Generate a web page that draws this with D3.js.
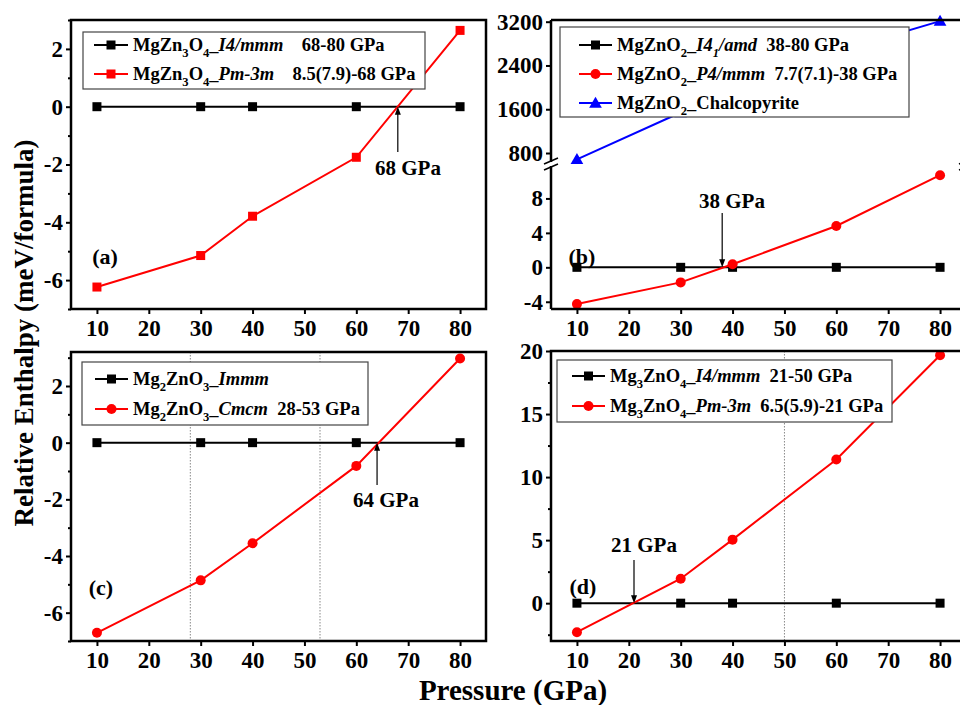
<!DOCTYPE html>
<html>
<head>
<meta charset="utf-8">
<script src="https://cdn.jsdelivr.net/npm/d3@7"></script>
<style>
  body { margin: 0; background: #fff; }
  svg { display: block; }
  text { font-family: "Liberation Serif", "Times New Roman", Times, "DejaVu Serif", serif; font-weight: bold; }
</style>
</head>
<body>
<svg id="chart" width="960" height="705"></svg>
<script>
// shared x values and ticks
const pressure = [10, 30, 40, 60, 80];
const xTicks = [10, 20, 30, 40, 50, 60, 70, 80];

// (a) MgZn3O4
const aI4mmm = [0, 0, 0, 0, 0];
const aPm3m = [-6.24, -5.15, -3.79, -1.75, 2.64];
const aYTicks = [-6, -4, -2, 0, 2];
const aYMinor = [-7, -5, -3, -1, 1, 3];
const aLegend = ["MgZn~3~O~4~_|I4/mmm|    68-80 GPa", "MgZn~3~O~4~_|Pm-3m|    8.5(7.9)-68 GPa"];

// (b) MgZnO2 (broken y axis)
const bI41amd = [0, 0, 0, 0, 0];
const bP4mmm = [-4.27, -1.75, 0.35, 4.8, 10.7];
const bChalco = [685, 1540, 1930, 2650, 3210];
const bYTicksLow = [-4, 0, 4, 8];
const bYTicksHigh = [800, 1600, 2400, 3200];
const bLegend = ["MgZnO~2~_|I4~1~/amd|  38-80 GPa", "MgZnO~2~_|P4/mmm|  7.7(7.1)-38 GPa", "MgZnO~2~_Chalcopyrite"];

// (c) Mg2ZnO3
const cImmm = [0, 0, 0, 0, 0];
const cCmcm = [-6.71, -4.86, -3.55, -0.82, 2.97];
const cYTicks = [-6, -4, -2, 0, 2];
const cYMinor = [-7, -5, -3, -1, 1, 3];
const cDotted = [28, 53];
const cLegend = ["Mg~2~ZnO~3~_|Immm|", "Mg~2~ZnO~3~_|Cmcm|  28-53 GPa"];

// (d) Mg3ZnO4
const dI4mmm = [0, 0, 0, 0, 0];
const dPm3m = [-2.3, 1.94, 5.04, 11.4, 19.66];
const dYTicks = [0, 5, 10, 15, 20];
const dYMinor = [-2.5, 2.5, 7.5, 12.5, 17.5];
const dDotted = [50];
const dLegend = ["Mg~3~ZnO~4~_|I4/mmm|  21-50 GPa", "Mg~3~ZnO~4~_|Pm-3m|  6.5(5.9)-21 GPa"];

// transition pressures
const transitions = { a: 68, b: 38, c: 64, d: 21 };

const svg = d3.select("#chart");
const RED = "#ff0000";
const FONT = '"Liberation Serif", "Times New Roman", Times, "DejaVu Serif", serif';

function styleAxis(g, size) {
    g.select(".domain").remove();
    g.attr("font-family", null).attr("font-size", null);
    g.selectAll("line").attr("stroke", "#000").attr("stroke-width", 2);
    g.selectAll("text").attr("fill", "#000").attr("font-size", size)
        .attr("font-family", FONT).attr("font-weight", "bold");
}

function richText(text, str, size) {
    let italic = false, sub = false, buf = "", shift = 0;
    const flush = () => {
        if (!buf) return;
        const target = sub ? size * 0.3 : 0;
        text.append("tspan")
            .attr("font-style", italic ? "italic" : null)
            .attr("font-size", sub ? size * 0.68 : size)
            .attr("dy", target - shift)
            .text(buf);
        shift = target;
        buf = "";
    };
    for (const ch of str) {
        if (ch === "~") { flush(); sub = !sub; }
        else if (ch === "|") { flush(); italic = !italic; }
        else buf += ch;
    }
    flush();
}

function marker(g, shape, x, y, color) {
    if (shape === "square") {
        g.append("rect").attr("x", x - 4.5).attr("y", y - 4.5).attr("width", 9).attr("height", 9).attr("fill", color);
    } else if (shape === "circle") {
        g.append("circle").attr("cx", x).attr("cy", y).attr("r", 5).attr("fill", color);
    } else {
        g.append("path").attr("transform", `translate(${x},${y + 1})`)
            .attr("d", d3.symbol(d3.symbolTriangle, 70)()).attr("fill", color);
    }
}

function drawSeries(g, x, y, vals, color, shape) {
    const line = d3.line().x((d, i) => x(pressure[i])).y(d => y(d));
    g.append("path").datum(vals).attr("d", line)
        .attr("fill", "none").attr("stroke", color).attr("stroke-width", 2);
    vals.forEach((v, i) => marker(g, shape, x(pressure[i]), y(v), color));
}

function drawLegend(g, box, entries, rows, lineX) {
    g.append("rect").attr("x", box[0]).attr("y", box[1])
        .attr("width", box[2] - box[0]).attr("height", box[3] - box[1])
        .attr("fill", "#fff").attr("stroke", "#444").attr("stroke-width", 1.2);
    entries.forEach((e, i) => {
        const yy = rows[i];
        g.append("line").attr("x1", lineX[0]).attr("x2", lineX[1]).attr("y1", yy).attr("y2", yy)
            .attr("stroke", e.color).attr("stroke-width", 2);
        marker(g, e.shape, (lineX[0] + lineX[1]) / 2, yy, e.color);
        const t = g.append("text").attr("x", lineX[1] + 5).attr("y", yy + 6)
            .style("white-space", "pre").attr("font-size", 18.5);
        richText(t, e.label, 18.5);
    });
}

function arrow(g, x, yFrom, yTip) {
    const dir = yTip > yFrom ? 1 : -1;
    g.append("line").attr("x1", x).attr("x2", x).attr("y1", yFrom).attr("y2", yTip - dir * 6)
        .attr("stroke", "#000").attr("stroke-width", 1.2);
    g.append("path").attr("d", `M${x},${yTip} L${x - 3},${yTip - dir * 8} L${x + 3},${yTip - dir * 8} Z`)
        .attr("fill", "#000");
}

function label(g, x, y, str, size) {
    g.append("text").attr("x", x).attr("y", y).attr("text-anchor", "middle")
        .attr("font-size", size).text(str);
}

function xAxis(g, x, yPos) {
    g.append("g").attr("transform", `translate(0,${yPos})`)
        .call(d3.axisBottom(x).tickValues(xTicks).tickSize(5).tickPadding(6).tickFormat(d => String(d)))
        .call(a => styleAxis(a, 23));
}

function yAxis(g, y, xPos, ticks, minor) {
    if (minor) {
        g.append("g").attr("transform", `translate(${xPos},0)`)
            .call(d3.axisLeft(y).tickValues(minor).tickSize(3).tickFormat(""))
            .call(a => styleAxis(a, 23));
    }
    g.append("g").attr("transform", `translate(${xPos},0)`)
        .call(d3.axisLeft(y).tickValues(ticks).tickSize(5).tickPadding(3).tickFormat(d => String(d)))
        .call(a => styleAxis(a, 23));
}

function dotted(g, x, vals, y0, y1) {
    vals.forEach(v => g.append("line").attr("x1", x(v)).attr("x2", x(v)).attr("y1", y0).attr("y2", y1)
        .attr("stroke", "#888").attr("stroke-width", 1).attr("stroke-dasharray", "1.5,1.5"));
}

function frame(g, x0, y0, x1, y1) {
    g.append("rect").attr("x", x0).attr("y", y0).attr("width", x1 - x0).attr("height", y1 - y0)
        .attr("fill", "none").attr("stroke", "#000").attr("stroke-width", 2.5);
}

// x scales
const xLeft = d3.scaleLinear().domain([5, 85]).range([71, 486]);
const xRight = d3.scaleLinear().domain([5, 85]).range([551, 966]);

// ---- panel (a)
{
    const g = svg.append("g");
    const y = d3.scaleLinear().domain([-7, 3]).range([309, 20]);
    drawSeries(g, xLeft, y, aI4mmm, "#000", "square");
    drawSeries(g, xLeft, y, aPm3m, RED, "square");
    drawLegend(g, [83, 32, 425, 89], [
        { label: aLegend[0], color: "#000", shape: "square" },
        { label: aLegend[1], color: RED, shape: "square" }
    ], [45, 74], [94, 128]);
    arrow(g, xLeft(transitions.a), 152, y(0));
    label(g, 408, 175, transitions.a + " GPa", 21);
    label(g, 105, 264, "(a)", 22);
    xAxis(g, xLeft, 309);
    yAxis(g, y, 71, aYTicks, aYMinor);
    frame(g, 71, 20, 486, 309);
}

// ---- panel (b) with broken axis
{
    const g = svg.append("g");
    const yLow = d3.scaleLinear().domain([-4.84, 11.65]).range([309, 167]);
    const yHigh = d3.scaleLinear().domain([654, 3231]).range([161, 20]);
    drawSeries(g, xRight, yHigh, bChalco, "#0000ff", "triangle");
    drawSeries(g, xRight, yLow, bI41amd, "#000", "square");
    drawSeries(g, xRight, yLow, bP4mmm, RED, "circle");
    drawLegend(g, [560, 27, 909, 117], [
        { label: bLegend[0], color: "#000", shape: "square" },
        { label: bLegend[1], color: RED, shape: "circle" },
        { label: bLegend[2], color: "#0000ff", shape: "triangle" }
    ], [45, 74, 103], [579, 612]);
    arrow(g, xRight(transitions.b), 213, yLow(0));
    label(g, 732, 208, transitions.b + " GPa", 21);
    label(g, 582, 264, "(b)", 22);
    xAxis(g, xRight, 309);
    yAxis(g, yLow, 551, bYTicksLow, null);
    yAxis(g, yHigh, 551, bYTicksHigh, null);
    // frame pieces with a gap at the break
    const fr = (x1, y1, x2, y2) => g.append("line").attr("x1", x1).attr("y1", y1).attr("x2", x2).attr("y2", y2)
        .attr("stroke", "#000").attr("stroke-width", 2.5);
    fr(551, 20, 966, 20);
    fr(551, 309, 966, 309);
    [551, 966].forEach(xx => {
        fr(xx, 20, xx, 162);
        fr(xx, 166, xx, 309);
        g.append("line").attr("x1", xx - 7).attr("y1", 164).attr("x2", xx + 7).attr("y2", 158)
            .attr("stroke", "#000").attr("stroke-width", 1.5);
        g.append("line").attr("x1", xx - 7).attr("y1", 170).attr("x2", xx + 7).attr("y2", 164)
            .attr("stroke", "#000").attr("stroke-width", 1.5);
    });
}

// ---- panel (c)
{
    const g = svg.append("g");
    const y = d3.scaleLinear().domain([-7, 3.2]).range([641, 352]);
    dotted(g, xLeft, cDotted, 352, 641);
    drawSeries(g, xLeft, y, cImmm, "#000", "square");
    drawSeries(g, xLeft, y, cCmcm, RED, "circle");
    drawLegend(g, [82, 362, 368, 425], [
        { label: cLegend[0], color: "#000", shape: "square" },
        { label: cLegend[1], color: RED, shape: "circle" }
    ], [379, 409], [95, 128]);
    arrow(g, xLeft(transitions.c), 485, y(0));
    label(g, 386, 507, transitions.c + " GPa", 21);
    label(g, 101, 595, "(c)", 22);
    xAxis(g, xLeft, 641);
    yAxis(g, y, 71, cYTicks, cYMinor);
    frame(g, 71, 352, 486, 641);
}

// ---- panel (d)
{
    const g = svg.append("g");
    const y = d3.scaleLinear().domain([-3, 20]).range([641, 351]);
    dotted(g, xRight, dDotted, 351, 641);
    drawSeries(g, xRight, y, dI4mmm, "#000", "square");
    drawSeries(g, xRight, y, dPm3m, RED, "circle");
    drawLegend(g, [557, 360, 892, 422], [
        { label: dLegend[0], color: "#000", shape: "square" },
        { label: dLegend[1], color: RED, shape: "circle" }
    ], [376, 406], [572, 605]);
    arrow(g, xRight(transitions.d), 560, y(0));
    label(g, 644, 552, transitions.d + " GPa", 21);
    label(g, 583, 594, "(d)", 22);
    xAxis(g, xRight, 641);
    yAxis(g, y, 551, dYTicks, dYMinor);
    frame(g, 551, 351, 966, 641);
}

// shared axis titles
svg.append("text").attr("transform", "translate(33,333) rotate(-90)")
    .attr("text-anchor", "middle").attr("font-size", 27).text("Relative Enthalpy (meV/formula)");
svg.append("text").attr("x", 513).attr("y", 700)
    .attr("text-anchor", "middle").attr("font-size", 29).text("Pressure (GPa)");
</script>
</body>
</html>
